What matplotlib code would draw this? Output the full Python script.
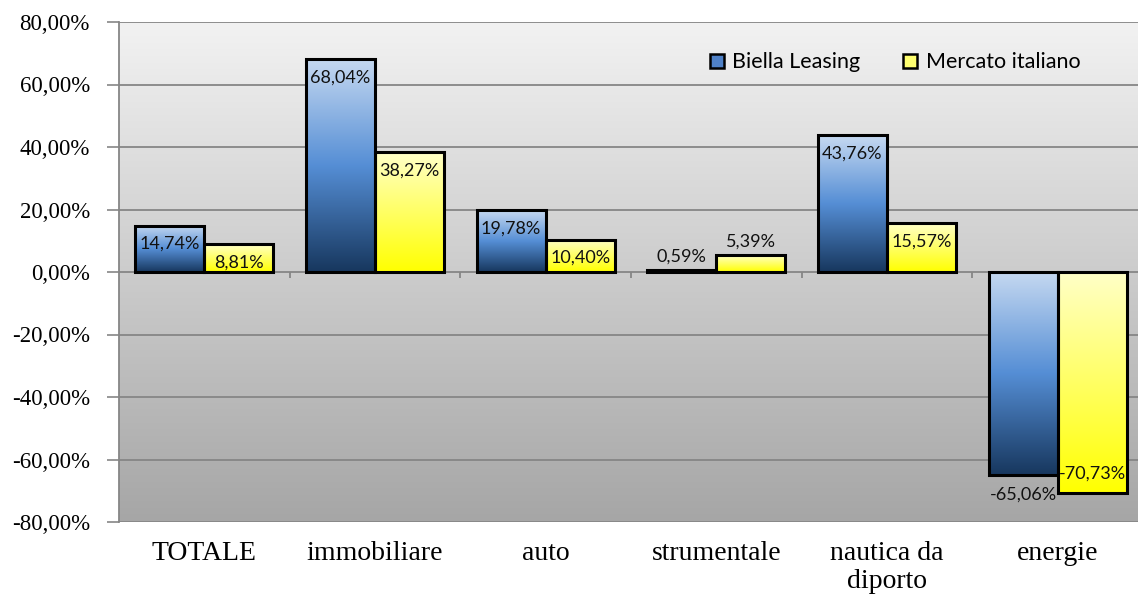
import numpy as np
import matplotlib.pyplot as plt
from matplotlib.colors import LinearSegmentedColormap
from matplotlib.patches import Patch

categories = ["TOTALE", "immobiliare", "auto", "strumentale", "nautica da\ndiporto", "energie"]
biella = [14.74, 68.04, 19.78, 0.59, 43.76, -65.06]
mercato = [8.81, 38.27, 10.40, 5.39, 15.57, -70.73]
series_names = ["Biella Leasing", "Mercato italiano"]
yticks = [-80, -60, -40, -20, 0, 20, 40, 60, 80]

# where each value label sits: "in" = inside the bar end, "out" = past the bar end
biella_side = ["in", "in", "in", "out", "in", "out"]
mercato_side = ["in", "in", "in", "out", "in", "in"]

blue_cmap = LinearSegmentedColormap.from_list(
    "blu", [(0, "#17375e"), (0.5, "#558ed5"), (1, "#c6d9f1")])
yellow_cmap = LinearSegmentedColormap.from_list(
    "gialla", [(0, "#ffff00"), (1, "#ffffc8")])
bg_cmap = LinearSegmentedColormap.from_list(
    "sfondo", [(0, "#a6a6a6"), (1, "#f2f2f2")])

fig = plt.figure(figsize=(11.38, 5.99), dpi=100)
ax = fig.add_axes([119 / 1138, 77 / 599, 1024 / 1138, 500 / 599])

grad = np.linspace(0, 1, 256).reshape(-1, 1)
ax.imshow(grad, cmap=bg_cmap, origin="lower", extent=[0, 1, 0, 1],
          transform=ax.transAxes, aspect="auto", zorder=0)

x = np.arange(len(categories))
w = 0.405

def gradient_bars(xpos, vals, cmap, sides):
    bars = ax.bar(xpos, vals, w, facecolor="none", edgecolor="black",
                  linewidth=2.2, zorder=3)
    for rect, v, side in zip(bars, vals, sides):
        x0 = rect.get_x()
        y0, y1 = min(0, v), max(0, v)
        im = ax.imshow(grad, cmap=cmap, origin="lower", aspect="auto",
                       extent=[x0, x0 + w, y0, y1], zorder=2)
        im.set_clip_path(rect)
        lab = f"{v:.2f}%".replace(".", ",")
        up = v >= 0
        if side == "in":
            dy = -13 if up else 14
        else:
            dy = 10 if up else -14
        ax.annotate(lab, (x0 + w / 2, v), xytext=(0, dy), textcoords="offset points",
                    ha="center", va="center", fontsize=13, family="Lato",
                    color="#111111", zorder=5)

gradient_bars(x - w / 2, biella, blue_cmap, biella_side)
gradient_bars(x + w / 2, mercato, yellow_cmap, mercato_side)

ax.set_xlim(-0.5, len(categories) - 0.5)
ax.set_ylim(-80, 80)

for yv in yticks:
    ax.axhline(yv, color="#868686", linewidth=1.3, zorder=1)
# category tick marks hanging from the zero line
ax.vlines(x[:-1] + 0.5, -2, 0, color="#868686", linewidth=1.3, zorder=1)

ax.set_yticks(yticks)
ax.set_yticklabels([f"{t},00%" for t in yticks], family="Liberation Serif", fontsize=16.5)
ax.tick_params(axis="y", length=9, width=1.2, color="#868686", pad=12)
ax.set_xticks(x)
ax.set_xticklabels(categories, family="Liberation Serif", fontsize=20, va="top",
                   linespacing=1.15)
ax.tick_params(axis="x", length=0, pad=14)

for s in ["top", "right", "bottom"]:
    ax.spines[s].set_visible(False)
ax.spines["left"].set_color("#868686")
ax.spines["left"].set_linewidth(1.3)

handles = [Patch(facecolor="#4f81c7", edgecolor="black", linewidth=1.8),
           Patch(facecolor="#ffff70", edgecolor="black", linewidth=1.8)]
ax.legend(handles, series_names, loc="upper right", bbox_to_anchor=(0.958, 0.978),
          ncol=2, frameon=False, prop={"family": "Lato", "size": 15.5},
          handlelength=0.65, handleheight=0.65, handletextpad=0.4, columnspacing=2.0)

fig.savefig("out.png", dpi=100)
